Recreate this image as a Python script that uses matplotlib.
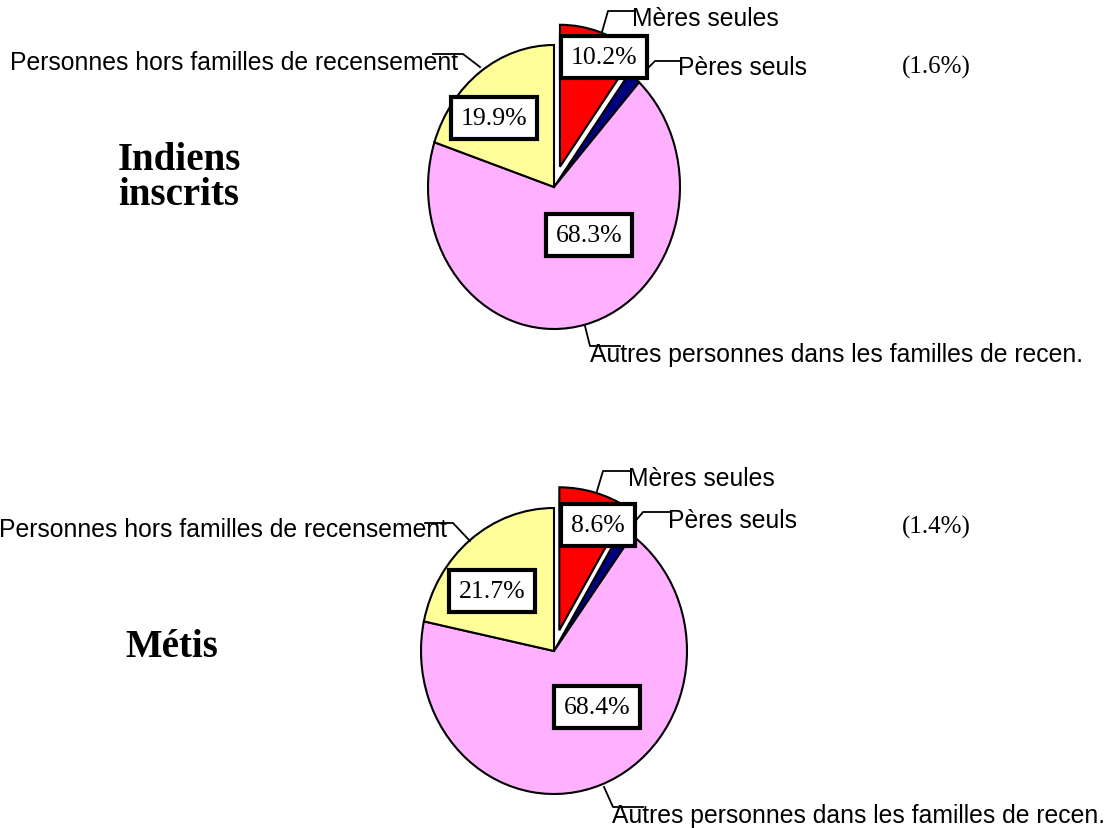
import matplotlib.pyplot as plt

W, H = 1115, 829

# data
groups = ["Indiens\ninscrits", "Métis"]
categories = ["Mères seules", "Pères seuls",
              "Autres personnes dans les familles de recen.",
              "Personnes hors familles de recensement"]
indiens = [10.2, 1.6, 68.3, 19.9]
metis = [8.6, 1.4, 68.4, 21.7]
colors = ["#ff0000", "#000080", "#ffb0ff", "#ffff99"]
explode = [0.15, 0, 0, 0]

# layout (pixel positions on the page)
pies = [
    dict(vals=indiens, c=(554, 188), r=(126, 142), title=(118, 178),
         lab=[(632, 26), (678, 75), (590, 362), (10, 70)],
         box=[(604, 58), None, (589, 236), (494, 119)], paren=(902, 74),
         lines=[[(635, 12), (608, 12), (602, 33)],
                [(680, 62), (655, 62), (647, 70)],
                [(620, 347), (590, 347), (585, 327)],
                [(433, 55), (463, 55), (480, 68)]]),
    dict(vals=metis, c=(554, 652), r=(133, 143), title=(125, 657),
         lab=[(628, 486), (668, 528), (612, 823), (-1, 537)],
         box=[(598, 526), None, (597, 708), (492, 592)], paren=(902, 534),
         lines=[[(630, 472), (603, 472), (597, 492)],
                [(670, 513), (643, 513), (633, 525)],
                [(643, 808), (613, 808), (604, 788)],
                [(425, 524), (453, 524), (470, 542)]]),
]

fig = plt.figure(figsize=(W / 100, H / 100), dpi=100)
m = 1.3
for p in pies:
    cx, cy = p["c"]
    rx, ry = p["r"]
    ax = fig.add_axes([(cx - m * rx) / W, 1 - (cy + m * ry) / H,
                       2 * m * rx / W, 2 * m * ry / H])
    ax.pie(p["vals"], colors=colors, explode=explode, startangle=90,
           counterclock=False,
           wedgeprops=dict(edgecolor="black", linewidth=1.5))
    ax.set_aspect("auto")
    ax.set_xlim(-m, m)
    ax.set_ylim(-m, m)
    ax.axis("off")

ov = fig.add_axes([0, 0, 1, 1], zorder=5)
ov.set_xlim(0, W)
ov.set_ylim(H, 0)
ov.axis("off")

for p, g in zip(pies, groups):
    ov.text(p["title"][0], p["title"][1], g, ha="left",
            va="center" if "\n" in g else "baseline",
            family="Liberation Serif", weight="bold", size=28, linespacing=0.95)
    for name, pos, ln in zip(categories, p["lab"], p["lines"]):
        ov.text(pos[0], pos[1], name, ha="left", va="baseline",
                family="Liberation Sans", size=17.8)
        ov.plot([q[0] for q in ln], [q[1] for q in ln], color="black", lw=1.3)
    for v, b in zip(p["vals"], p["box"]):
        if b is None:
            continue
        ov.text(b[0], b[1], f"{v}%", ha="center", va="center",
                family="Liberation Serif", size=18.5,
                bbox=dict(boxstyle="square,pad=0.38", fc="white", ec="black", lw=3))
    ov.text(p["paren"][0], p["paren"][1], f"({p['vals'][1]}%)", ha="left",
            va="baseline", family="Liberation Serif", size=18)

fig.savefig("out.png", dpi=100, facecolor="white")
